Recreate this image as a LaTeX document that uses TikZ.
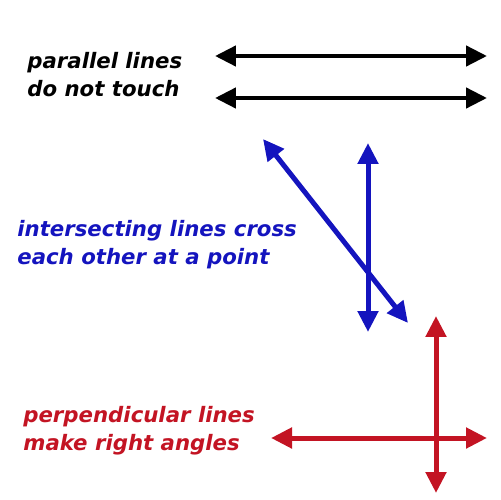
\documentclass[tikz,border=0pt]{standalone}
\usepackage{fontspec}
\setmainfont{DejaVu Sans}
\usetikzlibrary{arrows.meta}

\definecolor{lineblue}{RGB}{20,20,190}
\definecolor{linered}{RGB}{195,20,35}

\begin{document}
\begin{tikzpicture}[
    x=0.02cm, y=-0.02cm,
    caption/.style={anchor=north west, inner sep=0pt, align=left, font=\fontsize{12.1}{15.9}\selectfont\bfseries\itshape},
    dbl/.style={{Triangle[length=0.42cm, width=0.4cm]}-{Triangle[length=0.42cm, width=0.4cm]}, line width=0.1cm}
]
\useasboundingbox (0,0) rectangle (500,500);
% parallel
\node[caption] (partext) at (27,52) {parallel lines\\do not touch};
\coordinate (p1a) at (215,56);
\coordinate (p1b) at (487,56);
\coordinate (p2a) at (215,98);
\coordinate (p2b) at (487,98);
\draw[dbl, line width=0.09cm] (p1a) -- (p1b);
\draw[dbl, line width=0.09cm] (p2a) -- (p2b);
% intersecting
\node[caption, text=lineblue] (intext) at (17,220) {intersecting lines cross\\each other at a point};
\coordinate (i1a) at (263,139);
\coordinate (i1b) at (408,323);
\coordinate (i2a) at (368,143);
\coordinate (i2b) at (368,332);
\draw[dbl, lineblue] (i1a) -- (i1b);
\draw[dbl, lineblue] (i2a) -- (i2b);
% perpendicular
\node[caption, text=linered] (pertext) at (23,406) {perpendicular lines\\make right angles};
\coordinate (r1a) at (436,316);
\coordinate (r1b) at (436,493);
\coordinate (r2a) at (271,438);
\coordinate (r2b) at (487,438);
\draw[dbl, linered] (r1a) -- (r1b);
\draw[dbl, linered] (r2a) -- (r2b);
\end{tikzpicture}
\end{document}
